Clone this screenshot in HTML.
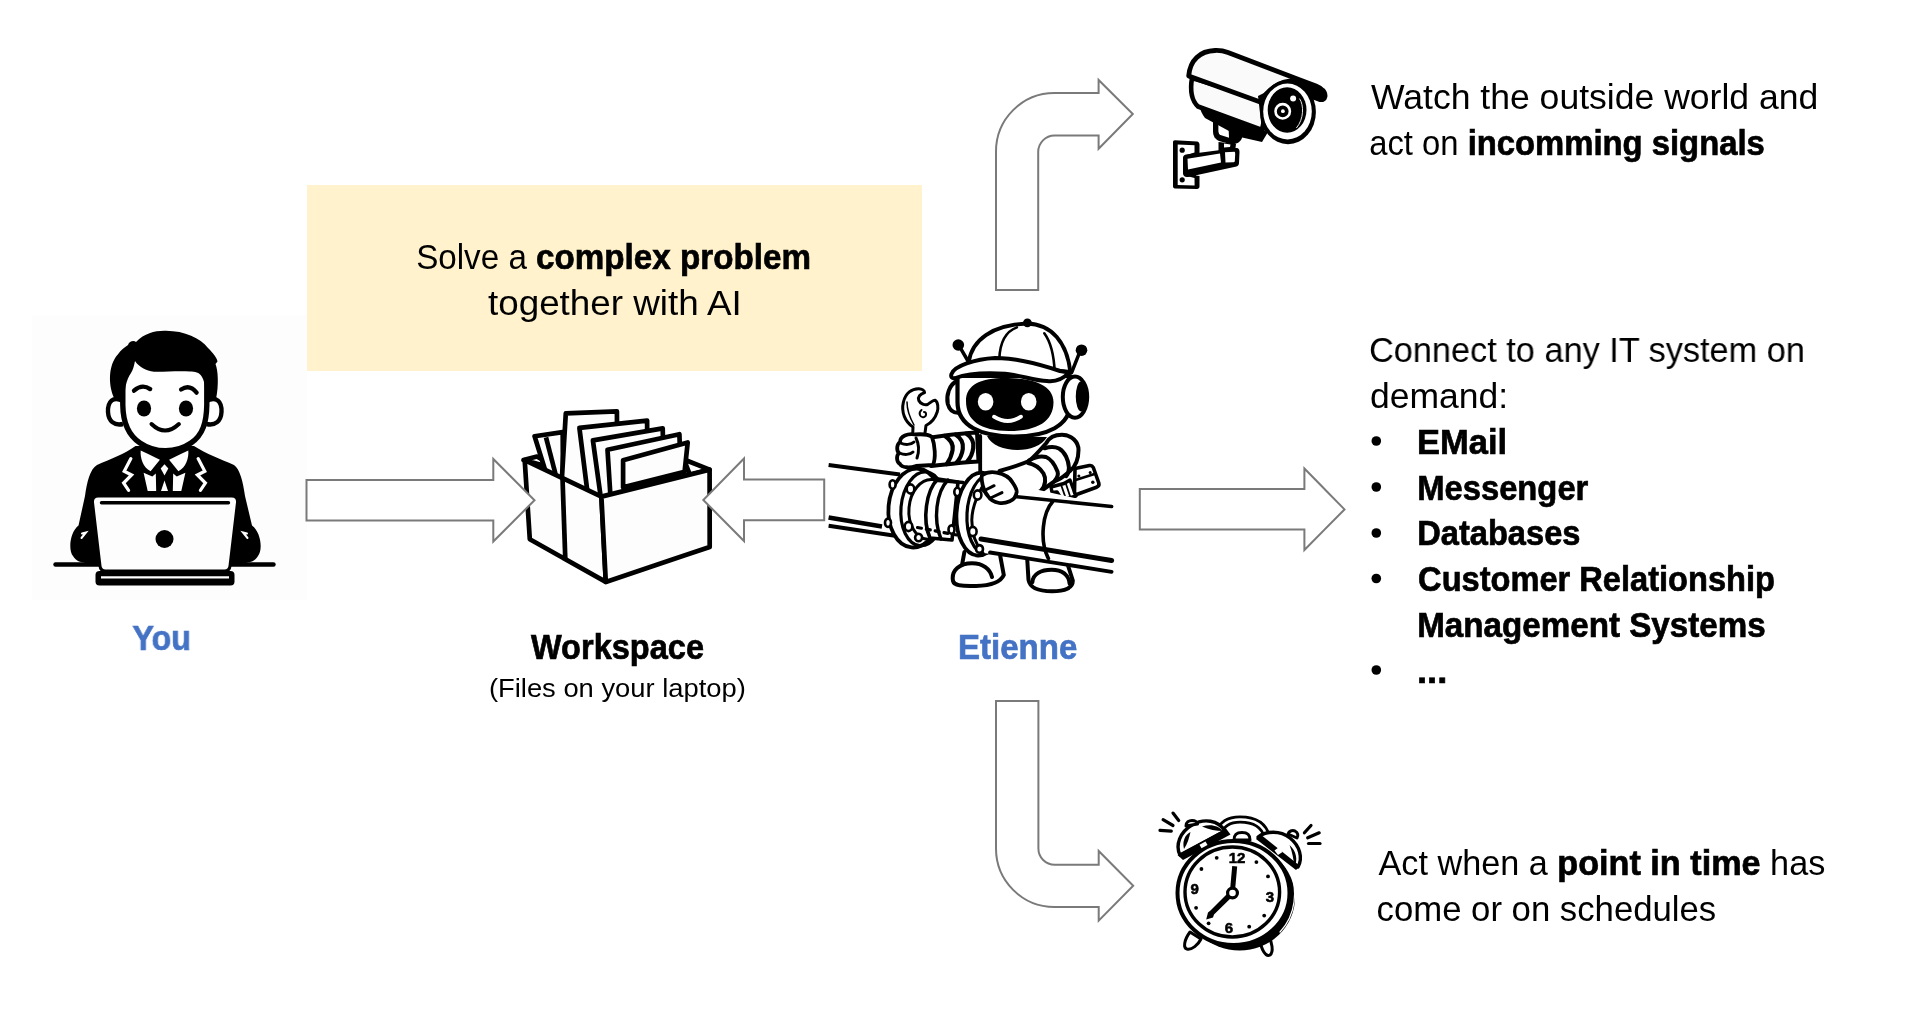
<!DOCTYPE html>
<html><head><meta charset="utf-8"><style>
html,body{margin:0;padding:0;background:#fff;width:1920px;height:1035px;overflow:hidden}
svg{position:absolute;left:0;top:0;font-family:"Liberation Sans",sans-serif;will-change:transform}
</style></head><body>
<svg width="1920" height="1035" viewBox="0 0 1920 1035">
<!-- person bg -->
<rect x="32" y="315" width="275" height="285" fill="#FDFDFD"/>
<!-- yellow box -->
<rect x="307" y="185" width="615" height="186" fill="#FFF2CC"/>
<g id="texts">
<text transform="translate(416.13 269.00) scale(0.9354 1)" font-size="35.5" fill="#000">Solve a <tspan font-weight="bold" stroke="#000" stroke-width="0.7">complex problem</tspan></text>
<text transform="translate(487.96 315.00) scale(1.0375 1)" font-size="35.5" fill="#000">together with AI</text>
<text transform="translate(1371.00 108.50) scale(1.0022 1)" font-size="35.5" fill="#000">Watch the outside world and</text>
<text transform="translate(1369.15 154.50) scale(0.9247 1)" font-size="35.5" fill="#000">act on <tspan font-weight="bold" stroke="#000" stroke-width="0.7">incomming signals</tspan></text>
<text transform="translate(1369.07 362.00) scale(0.9664 1)" font-size="35.5" fill="#000">Connect to any IT system on</text>
<text transform="translate(1370.00 408.00) scale(1.0000 1)" font-size="35.5" fill="#000">demand:</text>
<text transform="translate(1417.06 453.50) scale(0.9716 1)" font-size="35.5" fill="#000"><tspan font-weight="bold" stroke="#000" stroke-width="0.7">EMail</tspan></text>
<text transform="translate(1417.15 499.50) scale(0.9235 1)" font-size="35.5" fill="#000"><tspan font-weight="bold" stroke="#000" stroke-width="0.7">Messenger</tspan></text>
<text transform="translate(1417.16 545.00) scale(0.9195 1)" font-size="35.5" fill="#000"><tspan font-weight="bold" stroke="#000" stroke-width="0.7">Databases</tspan></text>
<text transform="translate(1418.08 590.50) scale(0.9187 1)" font-size="35.5" fill="#000"><tspan font-weight="bold" stroke="#000" stroke-width="0.7">Customer Relationship</tspan></text>
<text transform="translate(1417.13 636.50) scale(0.9351 1)" font-size="35.5" fill="#000"><tspan font-weight="bold" stroke="#000" stroke-width="0.7">Management Systems</tspan></text>
<text transform="translate(1416.95 683.00) scale(1.0240 1)" font-size="35.5" fill="#000"><tspan font-weight="bold" stroke="#000" stroke-width="0.7">...</tspan></text>
<text transform="translate(1378.50 875.00) scale(0.9637 1)" font-size="35.5" fill="#000">Act when a <tspan font-weight="bold" stroke="#000" stroke-width="0.7">point in time</tspan> has</text>
<text transform="translate(1376.54 920.60) scale(0.9782 1)" font-size="35.5" fill="#000">come or on schedules</text>
<text transform="translate(132.38 650.00) scale(0.9233 1)" font-size="35" fill="#4472C4"><tspan font-weight="bold" stroke="#4472C4" stroke-width="0.7">You</tspan></text>
<text transform="translate(531.00 659.00) scale(0.9297 1)" font-size="35" fill="#000"><tspan font-weight="bold" stroke="#000" stroke-width="0.7">Workspace</tspan></text>
<text transform="translate(488.94 696.60) scale(1.0285 1)" font-size="26.6" fill="#000">(Files on your laptop)</text>
<text transform="translate(958.11 659.00) scale(0.9431 1)" font-size="35" fill="#4472C4"><tspan font-weight="bold" stroke="#4472C4" stroke-width="0.7">Etienne</tspan></text>
<g fill="#000">
<circle cx="1376.3" cy="441" r="4.8"/><circle cx="1376.3" cy="487" r="4.8"/><circle cx="1376.3" cy="533" r="4.8"/><circle cx="1376.3" cy="578.5" r="4.8"/><circle cx="1376.3" cy="670" r="4.8"/>
</g>
</g>
<!-- ILLUSTRATIONS -->
<g id="person">
<!-- suit body -->
<path fill="#000" d="M135.5,446 C125,454 110,459 97,465 C90,469 87,482 85,496 L78.5,525.5 C70,532 68,550 73,556 C76,561 81,563 88,563 L243,563 C250,563 255,561 258,556 C263,550 261,532 252,525.5 L245,496 C243,482 240,469 234,465 C221,459 206,454 194,446 Z"/>
<!-- desk line -->
<path d="M55.5,564.5 H273.5" stroke="#000" stroke-width="4.4" stroke-linecap="round"/>
<!-- collar & shirt (white) -->
<path fill="#fff" d="M140.7,450.4 C140,458 143,467 150.6,471.3 L159.9,459.7 C153,456 146,453 140.7,450.4 Z"/>
<path fill="#fff" d="M188.3,450.4 C189,458 186,467 178.4,471.3 L169.1,459.7 C176,456 183,453 188.3,450.4 Z"/>
<path fill="#fff" d="M143.6,472.8 L152.3,476.5 L155.8,473.6 L156.2,491 L147.7,491 Z"/>
<path fill="#fff" d="M185.4,472.8 L176.7,476.5 L173.2,473.6 L172.8,491 L181.3,491 Z"/>
<path fill="#fff" d="M164.5,464.3 L168.3,468.5 L164.5,475.4 L160.7,468.5 Z"/>
<path fill="#fff" d="M161,491 L168,491 L164.5,480.6 Z"/>
<g fill="none" stroke="#fff" stroke-width="3.2" stroke-linejoin="miter" stroke-linecap="round">
<path d="M130.9,458.6 L124.2,471.3 L131.6,475 L123.6,483 L128.6,490.4"/>
<path d="M198.1,458.6 L204.8,471.3 L197.4,475 L205.4,483 L200.4,490.4"/>
<path d="M82,533.5 L86,532.5 L81.5,538" stroke-width="2"/>
<path d="M247,533.5 L243,532.5 L247.5,538" stroke-width="2"/>
</g>
<!-- laptop lid -->
<path fill="#FDFDFD" stroke="#000" stroke-width="3" d="M98.5,496 L231.5,496 Q238,496 237.5,502.5 L230,566 Q229.5,571 224.5,571 L105.5,571 Q100.5,571 100,566 L92.5,502.5 Q92,496 98.5,496 Z"/>
<path d="M101.5,502.8 H228.5" stroke="#000" stroke-width="3.4" stroke-linecap="round"/>
<circle cx="164.5" cy="539" r="9" fill="#000"/>
<!-- base -->
<rect x="95.5" y="571" width="139" height="14.5" rx="4" fill="#000"/>
<path d="M101,577.3 H229" stroke="#fff" stroke-width="2.2"/>
<!-- ears -->
<path fill="#fff" stroke="#000" stroke-width="4.4" d="M123,401 C113,395.5 107.5,402 108,412 C108.5,421 114,426 123,424"/>
<path fill="#fff" stroke="#000" stroke-width="4.4" d="M206.5,401 C216.5,395.5 222,402 221.5,412 C221,421 215.5,426 206.5,424"/>
<!-- face -->
<path fill="#fff" stroke="#000" stroke-width="5.4" d="M122.8,352 L122.8,405 C123,422 128,435 140,443 C148,448.5 157,450.8 165.5,450.8 C174,450.8 183,448.5 191,443 C203,435 206.5,422 206.8,405 L206.8,352"/>
<!-- hair -->
<path fill="#000" d="M114.7,399 C108,386 108,365 117.8,354.4 C121,350 125,347 128,345 C129,341 134,340 136,342 C145,333 155,330.5 166,330.8 C185,331 200,338 208,348 C213,353 217,358 217.5,361.5 L215.5,364 C218,370 219,385 216,399 L205.9,399 C205.5,390 205,382 202,377 C199,372 195,371.5 190,371.5 C175,371 165,372 154,371.8 C146,371 139,367 135,361 C134,366 133,370 131,373 C126,380 124.5,390 124.5,399 Z"/>
<!-- features -->
<ellipse cx="144" cy="408.5" rx="7.1" ry="8" fill="#000"/>
<ellipse cx="186" cy="408.5" rx="7.1" ry="8" fill="#000"/>
<g fill="none" stroke="#000" stroke-width="4.3" stroke-linecap="round">
<path d="M134,390.7 Q142,383.5 150.2,389.1"/>
<path d="M181.1,389.5 Q189.5,384 196.6,392.6"/>
<path d="M151.5,424 Q165,437 178.9,424" stroke-width="4"/>
</g>
</g>
<g id="box" stroke="#000" stroke-width="4.7" stroke-linejoin="round" fill="#FDFDFD">
<path d="M523.5,460 L537,456.5 L560,470 Z" fill="#fff"/>
<path d="M684,459.5 L709.6,469.6 L690,475 Z" fill="#fff"/>
<path d="M534.6,436.3 L562.7,432.1 L563.0,482.4 L546.5,474.5 Z"/>
<path d="M546,437.3 L555.5,474" fill="none"/>
<path d="M565.8,413.3 L616.9,411.3 L617.5,496.6 L601.4,500.5 L561.7,481.8 Z"/>
<path d="M579.4,427.9 L647.1,420.6 L647.5,489.1 L601.4,500.5 L587.7,494.1 Z"/>
<path d="M592.9,440.4 L662.7,428.4 L664.0,485.0 L601.4,500.5 L601.2,500.5 Z"/>
<path d="M607.5,449.8 L679.4,434.2 L681.0,480.7 L610.6,498.3 Z"/>
<path d="M623.1,460.2 L687.7,442.5 L684.6,471.7 L623.1,487.3 Z"/>
<!-- box faces -->
<path d="M524.7,460.2 L601.4,496.6 L605.8,581.9 L529.8,539.2 Z"/>
<path d="M601.4,496.6 L709.6,469.6 L709.7,546.9 L605.8,581.9 Z"/>
<path d="M562.5,478 L565.3,559" fill="none"/>
</g>
<g id="robot" stroke="#000" stroke-linejoin="round" stroke-linecap="round">
<!-- left pipe -->
<g fill="none" stroke-linecap="butt">
<path d="M828.6,465 L900,474.5" stroke-width="3.9"/>
<path d="M828.6,517.5 L882,526.5" stroke-width="4.6"/>
<path d="M828.6,525.8 L895,535.8" stroke-width="3.9"/>
</g>
<!-- legs & feet -->
<path fill="#fff" stroke="none" d="M962,550 L1000,550 L1004,576 C1000,584 990,586 975,586 C960,586 953,585 953,580 C952,572 958,566 962,565 Z"/>
<path fill="none" stroke-width="4" d="M964.4,552 L962,565"/>
<path fill="none" stroke-width="4" d="M999.5,552 L1003.8,575 C1001,581.5 992,585.5 976,586 C962,586.5 954,585.5 953,581 C951,570 960,563.3 972,563.3 C983,563.3 990,569 992,577"/>
<path fill="#fff" stroke="none" d="M1027,556 L1067,562 L1073,581 C1073,589 1064,591.5 1052,591.5 C1040,591.5 1029,589 1028.5,581 Z"/>
<path fill="none" stroke-width="4" d="M1027.1,557 L1028.5,580 C1030,588 1040,591.3 1052,591.3 C1065,591.3 1073,588 1072.8,580.5 L1067.5,564"/>
<path fill="none" stroke-width="4" d="M1032.4,582 C1033,574 1041,569.7 1051.6,569.7 C1062,569.7 1069,575 1069.6,583.5"/>
<!-- torso -->
<path fill="#fff" stroke="none" d="M980.2,436 L980.2,500 L1052,500 L1052,436 Z"/>
<path fill="none" stroke-width="3.8" d="M980.2,436 L980.2,480"/>
<!-- left arm -->
<path fill="#fff" stroke-width="4" d="M931,437.5 C945,435.5 962,433 977,432.5 L978.5,461.5 C962,462.5 945,464.5 931,466 Z"/>
<g fill="none" stroke-width="4.2">
<path d="M944.9,436 C951,440 953.5,445 952.6,450 C951.5,456 949,461 946.8,464"/>
<path d="M955.5,434.6 C961.5,438.5 963.5,444 962.8,449 C962,455 959,460 956.5,462.6"/>
<path d="M966.2,433.6 C972,437.5 974,443 973.2,448 C972.5,454 969.5,459 967.1,461.6"/>
</g>
<!-- wrench -->
<path fill="#fff" stroke-width="3" d="M911.5,465 L913,427 C905,422 901,412 903.4,402.2 C905.5,393 912,388.5 918.8,388.7 C922,388.8 924.6,390.5 924.6,392.6 C920,394 917.5,397 918.8,400.5 C920.5,404 925,405.5 927.5,404.5 C930,403 933,400 935.2,400.3 C938,402 938.5,408 937.2,412 C935,419 931,423 926,425.5 L920.5,466 Z"/>
<path fill="none" stroke-width="2" d="M921.5,410 C918,413 920,418 924,417 C927,416 926.5,412 924,412"/>
<path fill="none" stroke-width="1.5" d="M907,402 C907,410 910,418 914,425"/>
<!-- fist -->
<path fill="#fff" stroke-width="3.8" d="M915,434.5 C908,433 900,436 900,442 C897,444 896,450 899,453 C896,456 896.5,462 900,464 C902,468 910,468 916,466 L933,465 C936,458 935,445 932,437 C928,434 921,434 915,434.5 Z"/>
<g fill="none" stroke-width="3">
<path d="M900.5,443 C905,445 911,445 914,442"/>
<path d="M899.5,453 C904,455 910,455 913,452"/>
<path d="M916,438 C919,444 919,452 917,458"/>
</g>
<!-- helmet -->
<path fill="#fff" stroke-width="4" d="M957.5,381 C949,384 946,396 947.8,404 C949.5,410 953.5,413 958.3,412.8"/>
<path fill="#fff" stroke-width="4.2" d="M957.5,376 L957.5,402 C957.5,426 981,436.5 1014,436.5 C1047,436.5 1070.5,426 1070.5,402 L1070.5,376 Z"/>
<path fill="#000" stroke="none" d="M966,401 C966,384 982,377.5 1008,378 C1035,378.5 1053.5,386 1053.5,402 C1053.5,421 1038,431 1009,431 C980,431 966,420 966,401 Z"/>
<ellipse cx="985.6" cy="401.7" rx="7.8" ry="8.8" fill="#fff" stroke="none"/>
<ellipse cx="1028.7" cy="401.7" rx="7.8" ry="8.8" fill="#fff" stroke="none"/>
<path d="M994,416.7 Q1007.8,425.5 1021,416.7" fill="none" stroke="#fff" stroke-width="3.9"/>
<!-- neck -->
<path fill="#000" stroke="none" d="M987,436 C995,454 1037,455 1047,437 Z"/>
<!-- headphone -->
<ellipse cx="1075" cy="397.1" rx="12.2" ry="20.6" fill="#fff" stroke-width="4"/>
<ellipse cx="1081" cy="396.5" rx="5.2" ry="15" fill="#000" stroke="none"/>
<!-- antennae -->
<path d="M960.9,348.9 L968,361" stroke-width="3.5" fill="none"/>
<path d="M1078.9,354.1 L1071.7,372.4" stroke-width="3.5" fill="none"/>
<circle cx="958.3" cy="345" r="5.8" fill="#000" stroke="none"/>
<circle cx="1081.5" cy="350.2" r="5.8" fill="#000" stroke="none"/>
<!-- cap dome -->
<path fill="#fff" stroke-width="3.9" d="M968.7,362 C972,340 992,325 1026.7,323.5 C1052,324 1067,343 1070.4,372 Z"/>
<path fill="none" stroke-width="2.6" d="M999.3,359 C1000,341 1007,331 1016.9,327.4"/>
<path fill="none" stroke-width="2.6" d="M1054.7,372.4 C1054,355 1050,341 1044.3,333.3"/>
<circle cx="1027.4" cy="322.8" r="4.4" fill="#000" stroke="none"/>
<!-- brim -->
<path fill="#fff" stroke-width="4" d="M951.5,374 C954,366 975,359 995,358 C1020,358 1045,366 1060,371 L1069,372.5 C1063,379 1055,382 1047,381 C1035,381 1020,375 1005,373.7 C985,372.5 966,374 955.5,378 C952,379 950.5,377 951.5,374 Z"/>
<!-- right arm -->
<path fill="#fff" stroke-width="4" d="M1046.3,443 C1050,436 1056,434.8 1062,434.8 C1072,435 1078.5,442 1078.5,450 C1078.5,458 1077,465 1070,471 C1064,476 1060,480 1055,481 L1041,491 C1032,494.5 1020,495 1004,494 L999.5,471 C1010,468 1020,465 1029,461 C1035,456 1041,449 1046.3,443 Z"/>
<g fill="none" stroke-width="4">
<path d="M1044.6,448.3 C1050,446.5 1055,446.5 1059,448.5 C1065,452 1068.5,460 1068.9,467.4 C1069,471 1068,474 1066.3,476.1"/>
<path d="M1028.9,460.4 C1035,457 1041,455.5 1046,457 C1051,459 1055,465 1057.6,471.7 C1058.5,475 1057,478 1055,480.4"/>
<path d="M1028,463 C1034,464 1040,468 1043.5,473.5 C1046,478 1046,485 1041,490.9"/>
</g>
<!-- tool at belt -->
<path fill="#fff" stroke-width="3.4" d="M1051,487 L1064,483.5 L1070,480 L1076,496 L1062,500 L1057,492 L1052,492.5 Z"/>
<path fill="none" stroke-width="1.8" d="M1061.5,486 L1066,499 M1066,484 L1070.5,497.5"/>
<path fill="#fff" stroke-width="3.6" d="M1075,468.5 L1089.5,465.5 C1091.5,465.2 1092.5,466 1093.3,467.5 L1098.8,483 C1099.3,485 1098.5,486.5 1096.5,487.2 L1078,494 C1076,494.7 1075,494 1074.5,492 Z"/>
<path fill="none" stroke-width="2.6" d="M1075.5,480 L1094.5,474"/>
<circle cx="1090.2" cy="472.4" r="1.5" fill="#000" stroke="none"/>
<circle cx="1092.8" cy="482.2" r="1.7" fill="#000" stroke="none"/>
<circle cx="1078.9" cy="476.1" r="1.5" fill="#000" stroke="none"/>
<!-- left flange -->
<g transform="rotate(5 914 508)">
<ellipse cx="915" cy="508" rx="26.5" ry="39.5" fill="#fff" stroke-width="3.8"/>
<ellipse cx="923" cy="508" rx="22" ry="37" fill="none" stroke-width="3.2"/>
<ellipse cx="930" cy="508" rx="21" ry="30" fill="none" stroke-width="3"/>
</g>
<g fill="#fff" stroke-width="2.6">
<ellipse cx="910.5" cy="489" rx="3.8" ry="4.6"/>
<ellipse cx="908.5" cy="526.5" rx="3.8" ry="4.6"/>
<ellipse cx="918.6" cy="537.5" rx="3.5" ry="3.8"/>
<ellipse cx="892.6" cy="484.5" rx="3" ry="4.2"/>
<ellipse cx="888" cy="522.8" rx="3" ry="4.2"/>
</g>
<!-- coupling -->
<path fill="#fff" stroke-width="3.6" d="M938,479 C926,490 922,520 930,538 L952,540 L958,482 Z"/>
<path fill="none" stroke-width="3.4" d="M948,480 C936,492 933,520 941,539"/>
<path fill="none" stroke-width="3.6" d="M938,480.5 L963,482.5"/>
<g fill="none" stroke-width="3.2" stroke-dasharray="4 5">
<path d="M917.5,527.5 L962,536"/>
</g>
<!-- right flange -->
<g transform="rotate(3 978 514)">
<ellipse cx="980" cy="514" rx="23.5" ry="41.5" fill="#fff" stroke-width="3.8"/>
<ellipse cx="987" cy="514" rx="20" ry="39" fill="none" stroke-width="3.2"/>
</g>

<!-- right pipe body -->
<path fill="#fff" stroke="none" d="M990,479 C978,490 973.5,508 973.5,520 C973.5,532 976,544 984,553 L1111.6,573 L1111.6,506.5 Z"/>
<g fill="none">
<path d="M1012,496.2 L1111.6,506.5" stroke-width="3.6"/>
<path d="M981,539 L1111.6,560.5" stroke-width="5"/>
<path d="M990,552.5 L1111.6,571.8" stroke-width="3.8"/>
<path d="M1052.6,501.7 C1043,512 1039,540 1048.4,558.5" stroke-width="3.6"/>
</g>
<path d="M989,478 C978,490 972,508 971.8,520 C971.8,532 975,544 983,553" fill="none" stroke-width="3"/>
<g fill="#fff" stroke-width="2.6">
<ellipse cx="977.6" cy="495" rx="3.8" ry="4.6"/>
<ellipse cx="972.8" cy="531.5" rx="3.8" ry="4.6"/>
<ellipse cx="979.5" cy="548.9" rx="3.5" ry="3.8"/>
<ellipse cx="957.3" cy="492" rx="3" ry="4.2"/>
<ellipse cx="951.5" cy="529.6" rx="3" ry="4.2"/>
</g>
<!-- right hand on pipe -->
<path fill="#fff" stroke-width="3.8" d="M982,475.2 C986,472.5 991,471.5 996.7,472.6 C1004,474 1010,478 1012.4,482.2 C1015,486 1017,489 1016.7,492 C1016,497 1013,500 1009.8,501.3 C1006,503 1002,503.5 999.3,503 C994,502 990,499.5 988,496.1 C985,493 983.5,489.5 982.8,485.7 C982,482 981,478 982,475.2 Z"/>
<g fill="none" stroke-width="3">
<path d="M994.1,485.7 L983.5,491"/>
<path d="M1002,492.6 L990.5,498"/>
</g>

</g>
<g id="camera" stroke-linejoin="round">
<!-- neck -->
<path fill="#000" d="M1213,118 L1243,128 L1242,138 C1240,143 1235,145 1230,144 L1219,141 C1215,139 1213,136 1213,131 Z"/>
<path fill="#fff" d="M1218.4,123.5 L1228.5,126 L1229,137.8 L1220.5,135 C1219,134 1218.4,132.5 1218.4,131 Z"/>
<path fill="#000" d="M1218.5,142 L1236,144 L1235,152 L1218.5,154 Z"/>
<path fill="#fff" d="M1224,143.5 L1230.5,144.5 L1230,147 L1224,147.5 Z"/>
<!-- wall plate -->
<path fill="#000" d="M1175,140.3 L1197,141.5 C1198.5,141.7 1199.5,143 1199.5,144.5 L1199.5,154.5 L1196,155.5 L1196,175.5 L1199.5,176 L1199.5,186.5 C1199.5,188 1198.5,189 1197,189 L1175,188.5 C1173.5,188.5 1173,187.5 1173,186 L1173,142.5 C1173,141 1173.5,140.3 1175,140.3 Z"/>
<path fill="#fff" d="M1177.7,144.5 L1194.5,145.2 L1194.5,152.5 L1185,155.5 C1184,156 1183.5,157 1183.5,158 L1183.5,173 C1183.5,174 1184,175 1185,175.5 L1194.5,178 L1194.6,185.5 L1177.7,185 Z"/>
<circle cx="1182.2" cy="150.2" r="2.6" fill="#000"/>
<circle cx="1182.2" cy="179.8" r="2.6" fill="#000"/>
<!-- arm -->
<path fill="#000" d="M1186,154.5 L1236,148 C1239,148 1239.5,150 1239.5,152 L1239,163 C1239,165 1238,166 1236.5,166.5 L1188,177 C1185,177.5 1183,176 1183,173 L1183,158 C1183,156 1184,155 1186,154.5 Z"/>
<path fill="#fff" d="M1187.5,158.8 L1220,153.5 L1221,162.5 L1188,169.5 Z"/>
<path fill="#fff" d="M1225,152.3 L1234.5,151.8 C1235,152 1235.2,153 1235.2,154 L1234.8,161.2 C1234.5,162 1234,162.3 1233,162.3 L1225.5,162.5 Z"/>
<!-- under-body black base -->
<path fill="#000" d="M1199,104 L1268,132 L1262,142 L1240,137 L1205,118 C1202,114 1200,110 1199,104 Z"/>
<!-- body cylinder -->
<path fill="#FAFAFA" stroke="#000" stroke-width="4.6" d="M1192,78 C1190,90 1191,100 1198,106.5 L1262,130 L1268,101 Z"/>
<!-- hood -->
<path fill="#FAFAFA" stroke="#000" stroke-width="4.8" d="M1188.7,76 C1190,60 1200,51 1215,50.5 C1220,50.3 1224,51 1228,52.5 L1300,80 L1316,86 C1322,88.5 1325.5,92 1325,96.5 C1324.5,99.5 1322,100.5 1318.5,99 L1313,97 L1263,103 Z"/>
<!-- lens housing -->
<path fill="#000" d="M1258,102 C1266,86 1282,77 1298,78.5 L1316,85.5 C1323,88.5 1326.5,92 1326,97 C1325.5,100.5 1322,101.5 1318.5,100 L1312,98 Z"/>
<ellipse cx="1288" cy="112.1" rx="27.9" ry="32.2" fill="#000"/>
<path fill="#000" d="M1258,96 L1290,80 L1300,140 L1262,130 Z"/>
<ellipse cx="1287.5" cy="111.5" rx="24.3" ry="28" fill="#fff"/>
<ellipse cx="1287.1" cy="110" rx="19.4" ry="22.7" fill="#000"/>
<path d="M1299.5,98.6 C1304,105 1304,119 1296.4,128" fill="none" stroke="#fff" stroke-width="0.9"/>
<circle cx="1282.7" cy="111.3" r="7.2" fill="none" stroke="#fff" stroke-width="2.6"/>
<circle cx="1282.9" cy="111.2" r="1.9" fill="#fff"/>
<circle cx="1293.1" cy="98.6" r="3" fill="#fff"/>
</g>
<g id="clock" stroke="#000" stroke-linecap="round" stroke-linejoin="round">
<!-- shake lines -->
<g fill="none" stroke-width="3.2">
<path d="M1160,830.4 L1171.3,831.2"/><path d="M1163.1,819.7 L1173,825.5"/><path d="M1173,813.1 L1178.7,820.5"/>
<path d="M1308.5,843.5 L1320,843.5"/><path d="M1307.7,837.8 L1319.2,832.8"/><path d="M1304.4,832.8 L1311,825.5"/>
</g>
<!-- legs -->
<path fill="#fff" stroke-width="3" d="M1190,932 L1201,939 C1198,945 1192,950 1187,949 C1183,948 1184,940 1190,932 Z"/>
<path fill="#fff" stroke-width="3" d="M1260,939 L1268,934 C1272,942 1274,952 1270,955 C1266,957.5 1261,950 1260,939 Z"/>
<!-- handle -->
<path fill="none" stroke-width="8" d="M1219,833 C1222,823 1230,819.5 1240,819.5 C1255,819.5 1264,825 1267,837"/>
<path fill="none" stroke="#fff" stroke-width="2.4" d="M1219,833 C1222,823 1230,819.5 1240,819.5 C1255,819.5 1264,825 1267,837"/>
<!-- knob -->
<path fill="#fff" stroke-width="3" d="M1234,840 C1234,834 1237,832.5 1242,832.5 C1247,832.5 1250,834 1250,840 Z"/>
<!-- back body -->
<ellipse cx="1239.5" cy="897.5" rx="55.5" ry="53" fill="#000" stroke="none"/>
<!-- outer rim -->
<ellipse cx="1233.5" cy="893" rx="56" ry="52" fill="#fff" stroke-width="4"/>
<path d="M1290,870 C1298,890 1296,915 1280,932" fill="none" stroke="#fff" stroke-width="1.2"/>
<!-- face -->
<ellipse cx="1232.3" cy="892" rx="47.3" ry="45" fill="#fff" stroke-width="3.4"/>
<!-- bells -->
<path fill="#fff" stroke-width="3.4" d="M1180,855 C1175,845 1180,832 1192,825 C1204,818 1218,820 1225,831 Z"/>
<path fill="#000" stroke="none" d="M1177.5,855 L1226,828.5 L1230.5,834.5 L1183,860 Z"/>
<path fill="#fff" stroke="none" d="M1199.5,844.8 L1205.5,841.5 L1207.5,845 L1201.5,848.3 Z"/>
<path fill="#000" stroke="none" d="M1184,849 C1182,841 1185,835 1190.5,832 C1189,838 1187.5,844 1184,849 Z"/>
<path fill="#000" stroke="none" d="M1202,826.5 C1211,823.5 1219,826 1223,831 C1216,831 1209,829.5 1202,826.5 Z"/>
<path fill="#fff" stroke-width="3" d="M1186,826 C1186,822 1189,820.5 1192,820.5 C1195,820.5 1197,822 1197.5,824 Z"/>
<path fill="#fff" stroke-width="3.4" d="M1258,837 C1266,831 1280,830 1290,838 C1300,846 1303,858 1298,867 Z"/>
<path fill="#000" stroke="none" d="M1256,839 L1260,834 L1300,866 L1296,870 Z"/>
<path fill="#fff" stroke="none" d="M1274.5,850.5 L1278.5,847.5 L1282.5,852 L1278,855 Z"/>
<path fill="#000" stroke="none" d="M1289.5,845 C1296.5,851 1298,860 1294.5,867 C1293.5,860 1292.5,852 1289.5,845 Z"/>
<path fill="#fff" stroke-width="3" d="M1288,834 C1289,831 1292,830 1295,831 C1298,832.5 1298.5,835.5 1297,838 Z"/>
<!-- dots -->
<g fill="#000" stroke="none">
<circle cx="1216.7" cy="857.8" r="1.9"/><circle cx="1256.4" cy="862.1" r="1.9"/><circle cx="1201.4" cy="869" r="1.9"/>
<circle cx="1268" cy="876.4" r="1.9"/><circle cx="1196.1" cy="907.8" r="1.9"/><circle cx="1264.2" cy="915.6" r="1.9"/>
<circle cx="1208.6" cy="923.3" r="1.9"/><circle cx="1249.2" cy="926.7" r="1.9"/>
</g>
<!-- numbers -->
<g fill="#000" stroke="#000" stroke-width="0.6" font-family="Liberation Sans, sans-serif" font-weight="bold" font-size="15" text-anchor="middle">
<text x="1237" y="863">12</text>
<text x="1194.6" y="893.6">9</text>
<text x="1270" y="902.3">3</text>
<text x="1229" y="933.2">6</text>
</g>
<!-- hands -->
<path d="M1232.3,892.9 L1234.7,866.3" stroke-width="5" stroke-linecap="butt" fill="none"/>
<path fill="#000" stroke="none" d="M1230.5,890.5 L1234.5,894.5 L1214,914.5 L1213,917.5 L1206.2,919.6 L1208,912.5 L1210.5,910.5 Z"/>
<circle cx="1232.5" cy="893" r="4.9" fill="#fff" stroke-width="3.2"/>
</g>
<!-- arrows -->
<g fill="#fff" stroke="#7A7A7A" stroke-width="2" stroke-linejoin="miter">
<path d="M306.5,480 H493.3 V459 L534.5,500.3 L493.3,541.5 V520.6 H306.5 Z"/>
<path d="M824.2,479.4 H744 V458.5 L703.3,500 L744,541 V520.2 H824.2 Z"/>
<path d="M1139.8,489 H1304.4 V468.5 L1344.5,509.4 L1304.4,550 V529.4 H1139.8 Z"/>
<path d="M996,290 V151.5 A58.5,58.5 0 0 1 1054.5,93 H1098.6 V80 L1132.8,114 L1098.6,148.8 V135.5 H1054.5 A16.5,16.5 0 0 0 1038.2,152 V290 Z"/>
<path d="M996,701 V848.5 A58.5,58.5 0 0 0 1054.5,907 H1098.7 V920.6 L1133.2,885.7 L1098.7,851 V864.7 H1054.7 A16.3,16.3 0 0 1 1038.4,848.4 V701 Z"/>
</g>
</svg>
</body></html>
